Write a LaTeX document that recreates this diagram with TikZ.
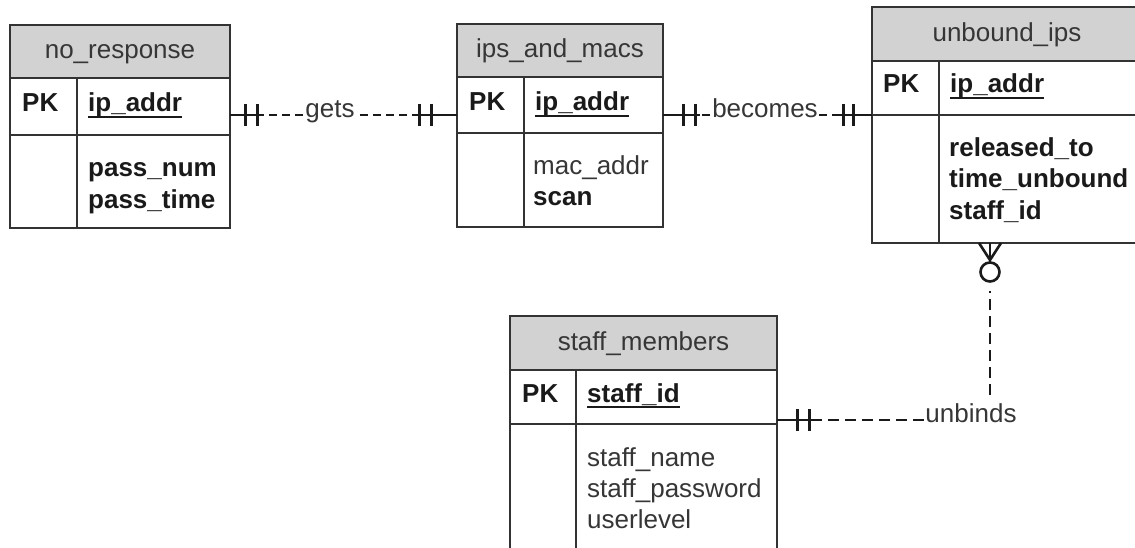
\documentclass[tikz,border=0pt]{standalone}
\usepackage{fontspec}
\setmainfont{Liberation Sans}
\usetikzlibrary{calc}

\definecolor{edge}{HTML}{333333}
\definecolor{hdr}{HTML}{D2D2D2}
\definecolor{ink}{HTML}{1A1A1A}
\definecolor{soft}{HTML}{363636}

% primary-key field: underlined text
\newcommand\keyname[1]{\setbox0=\hbox{#1}\rlap{\rule[-6pt]{\wd0}{1.9pt}}\box0}

% entity box: #1 left, #2 top, #3 right, #4 bottom, #5 header bottom, #6 key row bottom, #7 divider x
\newcommand\erdtable[7]{%
  \fill[hdr] (#1,#2) rectangle (#3,#5);
  \draw[frame] (#1,#2) rectangle (#3,#4);
  \draw[frame] (#1,#5) -- (#3,#5) (#1,#6) -- (#3,#6) (#7,#5) -- (#7,#4);
}

\tikzset{
  frame/.style={draw=edge, line width=2pt},
  txt/.style={inner sep=0pt, font=\fontsize{26}{31}\selectfont},
  title/.style={txt, anchor=base, text=soft},
  pkmark/.style={txt, anchor=base west, text=ink, font=\fontsize{26}{31}\selectfont\bfseries},
  fld/.style={txt, anchor=base west, text=ink},
  relline/.style={draw=ink, line width=2.6pt},
  reldash/.style={relline, dash pattern=on 8pt off 5pt},
  reldashlong/.style={relline, dash pattern=on 11pt off 6pt},
  onebar/.style={draw=ink, line width=3pt},
  rellabel/.style={txt, anchor=mid, text=soft, fill=white, inner xsep=1pt, inner ysep=3pt},
}

\begin{document}
\begin{tikzpicture}[x=1pt, y=-1pt]
\useasboundingbox (0,0) rectangle (1135,548);
\clip (0,0) rectangle (1135,548);
\fill[white] (0,0) rectangle (1135,548);

% ---------- entities ----------
\erdtable{10}{25}{230}{228}{78}{135}{77}
\node[title] (nr-title) at (120,59) {no\_response};
\node[pkmark] (nr-pk) at (22,112) {PK};
\node[fld] (nr-key) at (88,112) {\bfseries\keyname{ip\_addr}};
\node[fld] (nr-f1) at (88,177) {\bfseries pass\_num};
\node[fld] (nr-f2) at (88,208) {\bfseries pass\_time};

\erdtable{457}{24}{663}{227}{77}{133}{524}
\node[title] (im-title) at (560,58) {ips\_and\_macs};
\node[pkmark] (im-pk) at (469,111) {PK};
\node[fld] (im-key) at (535,111) {\bfseries\keyname{ip\_addr}};
\node[fld, text=soft] (im-f1) at (533,175) {mac\_addr};
\node[fld] (im-f2) at (533,206) {\bfseries scan};

\erdtable{872}{7}{1142}{243}{61}{115}{939}
\node[title] (ub-title) at (1007,42) {unbound\_ips};
\node[pkmark] (ub-pk) at (883,93) {PK};
\node[fld] (ub-key) at (950,93) {\bfseries\keyname{ip\_addr}};
\node[fld] (ub-f1) at (949,157) {\bfseries released\_to};
\node[fld] (ub-f2) at (949,188) {\bfseries time\_unbound};
\node[fld] (ub-f3) at (949,219) {\bfseries staff\_id};

\erdtable{510}{316}{777}{570}{370}{424}{576}
\node[title] (sm-title) at (643.5,350) {staff\_members};
\node[pkmark] (sm-pk) at (522,402) {PK};
\node[fld] (sm-key) at (587,402) {\bfseries\keyname{staff\_id}};
\node[fld, text=soft] (sm-f1) at (587,466) {staff\_name};
\node[fld, text=soft] (sm-f2) at (587,497) {staff\_password};
\node[fld, text=soft] (sm-f3) at (587,528) {userlevel};

% ---------- connector end points ----------
\coordinate (nr-e) at (230,115);
\coordinate (im-w) at (457,115);
\coordinate (im-e) at (663,115);
\coordinate (ub-w) at (872,115);
\coordinate (sm-e) at (777,420);
\coordinate (ub-s) at (990,243);

% ---------- gets ----------
\draw[reldash] (nr-e) -- (im-w);
\draw[relline] (nr-e) -- ($(nr-e)+(32,0)$);
\draw[relline] (im-w) -- ($(im-w)+(-43,0)$);
\draw[onebar] ($(nr-e)+(15,-11)$) -- ++(0,22);
\draw[onebar] ($(nr-e)+(27,-11)$) -- ++(0,22);
\draw[onebar] ($(im-w)+(-38,-11)$) -- ++(0,22);
\draw[onebar] ($(im-w)+(-26,-11)$) -- ++(0,22);
\node[rellabel] (gets) at (330,115) {gets};

% ---------- becomes ----------
\draw[reldash] (im-e) -- (ub-w);
\draw[relline] (im-e) -- ($(im-e)+(37,0)$);
\draw[relline] (ub-w) -- ($(ub-w)+(-36,0)$);
\draw[onebar] ($(im-e)+(20,-11)$) -- ++(0,22);
\draw[onebar] ($(im-e)+(32,-11)$) -- ++(0,22);
\draw[onebar] ($(ub-w)+(-29,-11)$) -- ++(0,22);
\draw[onebar] ($(ub-w)+(-19,-11)$) -- ++(0,22);
\node[rellabel] (becomes) at (765,115) {becomes};

% ---------- unbinds ----------
\draw[reldashlong] (sm-e) -| (ub-s);
\draw[relline] (sm-e) -- ($(sm-e)+(38,0)$);
\draw[onebar] ($(sm-e)+(20,-11)$) -- ++(0,22);
\draw[onebar] ($(sm-e)+(32,-11)$) -- ++(0,22);
% zero-or-many end at unbound_ips
\draw[relline] ($(ub-s)+(-11,0)$) -- ($(ub-s)+(0,17)$) -- ($(ub-s)+(11,0)$);
\draw[relline] (ub-s) -- ($(ub-s)+(0,19)$);
\fill[white] ($(ub-s)+(-5,20)$) rectangle ($(ub-s)+(5,48)$);
\draw[relline, fill=white] ($(ub-s)+(0,29)$) circle[radius=9.5];
\node[rellabel, inner ysep=7pt] (unbinds) at (971,420) {unbinds};
\end{tikzpicture}
\end{document}
